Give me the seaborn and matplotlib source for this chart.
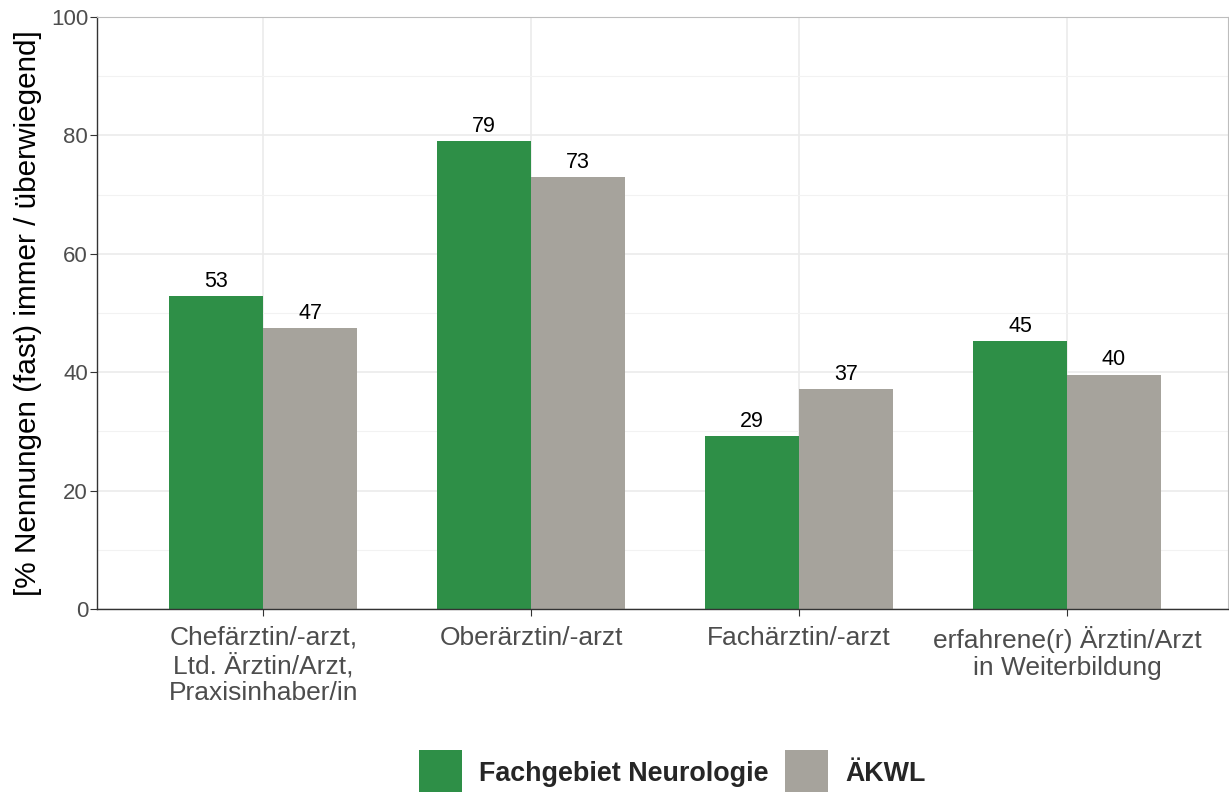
import pandas as pd
import matplotlib.pyplot as plt
import matplotlib.ticker as mticker
import seaborn as sns

categories = ['Chefärztin/-arzt,\nLtd. Ärztin/Arzt,\nPraxisinhaber/in',
              'Oberärztin/-arzt',
              'Fachärztin/-arzt',
              'erfahrene(r) Ärztin/Arzt\nin Weiterbildung']
groups = ['Fachgebiet Neurologie', 'ÄKWL']
neuro_values = [52.9, 79.1, 29.2, 45.3]
akwl_values = [47.4, 73.0, 37.2, 39.6]
colors = ['#2e8f47', '#a6a39c']

df = pd.DataFrame({
    'category': categories * 2,
    'group': [groups[0]] * 4 + [groups[1]] * 4,
    'value': neuro_values + akwl_values,
})

sns.set_style('white')
plt.rcParams['font.family'] = ['Liberation Sans', 'DejaVu Sans']

fig, ax = plt.subplots(figsize=(12.29, 7.92), dpi=100)
fig.subplots_adjust(left=0.079, right=0.999, top=0.9785, bottom=0.231)

sns.barplot(data=df, x='category', y='value', hue='group', palette=colors,
            width=0.7, saturation=1, linewidth=0, ax=ax, legend=True)

# labels on top of bars
for cont in ax.containers:
    ax.bar_label(cont, fmt='%.0f', padding=3, fontsize=15.5, color='black')

ax.set_ylim(0, 100)
ax.set_xlim(-0.62, 3.6)
ax.yaxis.set_major_locator(mticker.MultipleLocator(20))
ax.yaxis.set_minor_locator(mticker.MultipleLocator(10))
ax.grid(which='major', color='#ebebeb', linewidth=1.2)
ax.grid(which='minor', axis='y', color='#f2f2f2', linewidth=0.8)
ax.set_axisbelow(True)

ax.set_xlabel('')
ax.set_ylabel('[% Nennungen (fast) immer / überwiegend]', fontsize=21.4,
              color='black', labelpad=6)
ax.tick_params(axis='both', which='major', labelcolor='#4d4d4d',
               length=5, color='#333333', left=True, bottom=True)
ax.tick_params(axis='y', which='major', labelsize=16, pad=1.5)
ax.tick_params(axis='x', which='major', labelsize=19, pad=7)
ax.tick_params(axis='both', which='minor', length=0)
for lbl in ax.get_xticklabels():
    lbl.set_linespacing(1.15)

for side in ['top', 'right']:
    ax.spines[side].set_color('#bdbdbd')
    ax.spines[side].set_linewidth(0.8)
for side in ['left', 'bottom']:
    ax.spines[side].set_color('#333333')
    ax.spines[side].set_linewidth(1.0)

handles, labels = ax.get_legend_handles_labels()
ax.get_legend().remove()
leg = fig.legend(handles, labels, loc='center', ncol=2, frameon=False,
                 bbox_to_anchor=(0.547, 0.0245), handlelength=1.6, handleheight=1.6,
                 columnspacing=0.63, handletextpad=0.63, borderpad=0,
                 prop={'weight': 'bold', 'size': 19.4})
for h in leg.legend_handles:
    h.set_height(h.get_height() * 1.3)
    h.set_y(h.get_y() - h.get_height() * 0.12)

plt.savefig('out.png', dpi=100)
